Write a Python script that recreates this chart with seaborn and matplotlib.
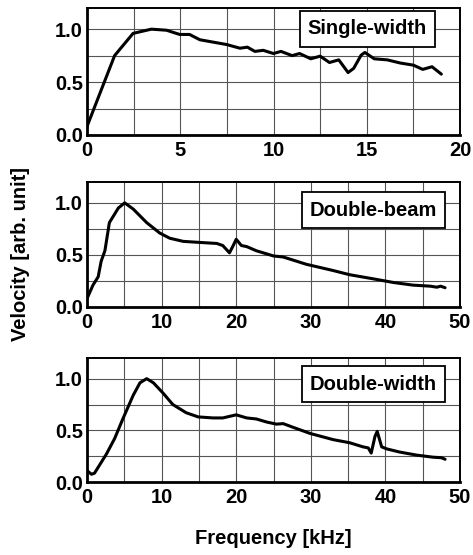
import numpy as np
import pandas as pd
import matplotlib
matplotlib.use("Agg")
import matplotlib.pyplot as plt
import seaborn as sns

# Single-width
sw_f = [0, 1.48, 2.47, 3.45, 4.26, 4.97, 5.5, 6.05, 7.48, 8.2, 8.6, 9.0, 9.45, 10.0,
        10.4, 11.0, 11.4, 12.0, 12.5, 13.0, 13.5, 14.0, 14.3, 14.7, 14.9, 15.4, 16.1,
        16.8, 17.5, 18.0, 18.5, 19.0]
sw_v = [0.08, 0.75, 0.96, 1.0, 0.99, 0.95, 0.95, 0.90, 0.855, 0.82, 0.83, 0.79, 0.80, 0.77,
        0.79, 0.75, 0.77, 0.72, 0.745, 0.685, 0.71, 0.59, 0.63, 0.755, 0.78, 0.72, 0.71,
        0.68, 0.66, 0.62, 0.645, 0.575]

# Double-beam
db_f = [0, 0.8, 1.5, 1.9, 2.4, 3.0, 4.2, 5.05, 6.2, 8.0, 9.75, 11.1, 12.9, 15.1, 17.4,
        18.2, 19.1, 19.6, 20.0, 20.7, 21.4, 22.7, 25.0, 26.3, 29.4, 33.0, 35.2, 38.4,
        41.1, 43.7, 46.0, 46.9, 47.4, 48.0]
db_v = [0.08, 0.21, 0.29, 0.44, 0.54, 0.81, 0.95, 1.0, 0.94, 0.81, 0.71, 0.66, 0.63, 0.62, 0.61,
        0.59, 0.52, 0.59, 0.65, 0.59, 0.58, 0.54, 0.49, 0.48, 0.41, 0.35, 0.31, 0.27,
        0.235, 0.21, 0.20, 0.19, 0.20, 0.185]

# Double-width
dw_f = [0, 0.6, 1.0, 2.6, 3.7, 4.8, 6.2, 7.1, 8.0, 8.9, 10.2, 11.5, 13.3, 14.9, 16.9, 18.2,
        20.0, 21.4, 22.7, 24.1, 25.4, 26.3, 27.6, 29.9, 33.0, 35.2, 37.0, 37.7, 38.1,
        38.6, 38.9, 39.5, 40.2, 41.9, 44.2, 46.4, 47.5, 48.0]
dw_v = [0.11, 0.075, 0.085, 0.27, 0.42, 0.61, 0.84, 0.96, 1.0, 0.96, 0.86, 0.75, 0.67, 0.63, 0.62, 0.62,
        0.65, 0.62, 0.61, 0.58, 0.56, 0.565, 0.53, 0.47, 0.41, 0.38, 0.34, 0.33, 0.28,
        0.44, 0.49, 0.34, 0.32, 0.29, 0.26, 0.24, 0.235, 0.22]

# name, freqs, values, xmax, major, minor, (label x right px, label y frac)
panels = [
    ("Single-width", sw_f, sw_v, 20, 5, 2.5, 427, 0.835),
    ("Double-beam", db_f, db_v, 50, 10, 5, 437, 0.776),
    ("Double-width", dw_f, dw_v, 50, 10, 5, 437, 0.79),
]

sns.set_style("white")
plt.rcParams['font.family'] = ['Liberation Sans', 'DejaVu Sans']
plt.rcParams['font.weight'] = 'bold'
plt.rcParams['text.color'] = 'black'
plt.rcParams['xtick.color'] = 'black'
plt.rcParams['ytick.color'] = 'black'

fig = plt.figure(figsize=(4.73, 5.55), dpi=100)
W, H = 473, 555
boxes = [(8, 135), (182, 307), (358, 482)]
left, right = 87, 460

for (name, f, v, xmax, major, minor, lx, ly), (top, bot) in zip(panels, boxes):
    ax = fig.add_axes([left / W, 1 - bot / H, (right - left) / W, (bot - top) / H])
    df = pd.DataFrame({"Frequency": f, "Velocity": v})
    sns.lineplot(data=df, x="Frequency", y="Velocity", ax=ax, color="black", lw=2.2)
    ax.set_xlim(0, xmax)
    ax.set_ylim(0, 1.2)
    ax.set_xticks(np.arange(0, xmax + 0.1, major))
    ax.set_xticks(np.arange(0, xmax + 0.1, minor), minor=True)
    ax.set_yticks([0, 0.5, 1.0])
    ax.set_yticks([0.25, 0.75], minor=True)
    ax.set_yticklabels(["0.0", "0.5", "1.0"])
    ax.grid(True, which="both", color="#555555", lw=0.8)
    ax.tick_params(axis="x", which="both", length=0, labelsize=14.5, pad=4)
    ax.tick_params(axis="y", which="both", length=0, labelsize=14.5, pad=3)
    for lab in ax.get_xticklabels() + ax.get_yticklabels():
        lab.set_fontweight("bold")
    for s in ax.spines.values():
        s.set_color("black")
        s.set_linewidth(1.4)
    ax.spines["left"].set_linewidth(2)
    ax.spines["bottom"].set_linewidth(2)
    ax.set_xlabel("")
    ax.set_ylabel("")
    xr = (lx - left) / (right - left)
    ax.text(xr, ly, name, transform=ax.transAxes, ha="right", va="center",
            fontsize=14.5, fontweight="bold",
            bbox=dict(boxstyle="square,pad=0.4", fc="white", ec="black", lw=1.3))

fig.text(273 / W, 1 - 538 / H, "Frequency [kHz]", ha="center", va="center",
         fontsize=14.5, fontweight="bold")
fig.text(21 / W, 1 - 254 / H, "Velocity [arb. unit]", ha="center", va="center",
         rotation=90, fontsize=14.5, fontweight="bold")

fig.savefig("out.png", dpi=100)
